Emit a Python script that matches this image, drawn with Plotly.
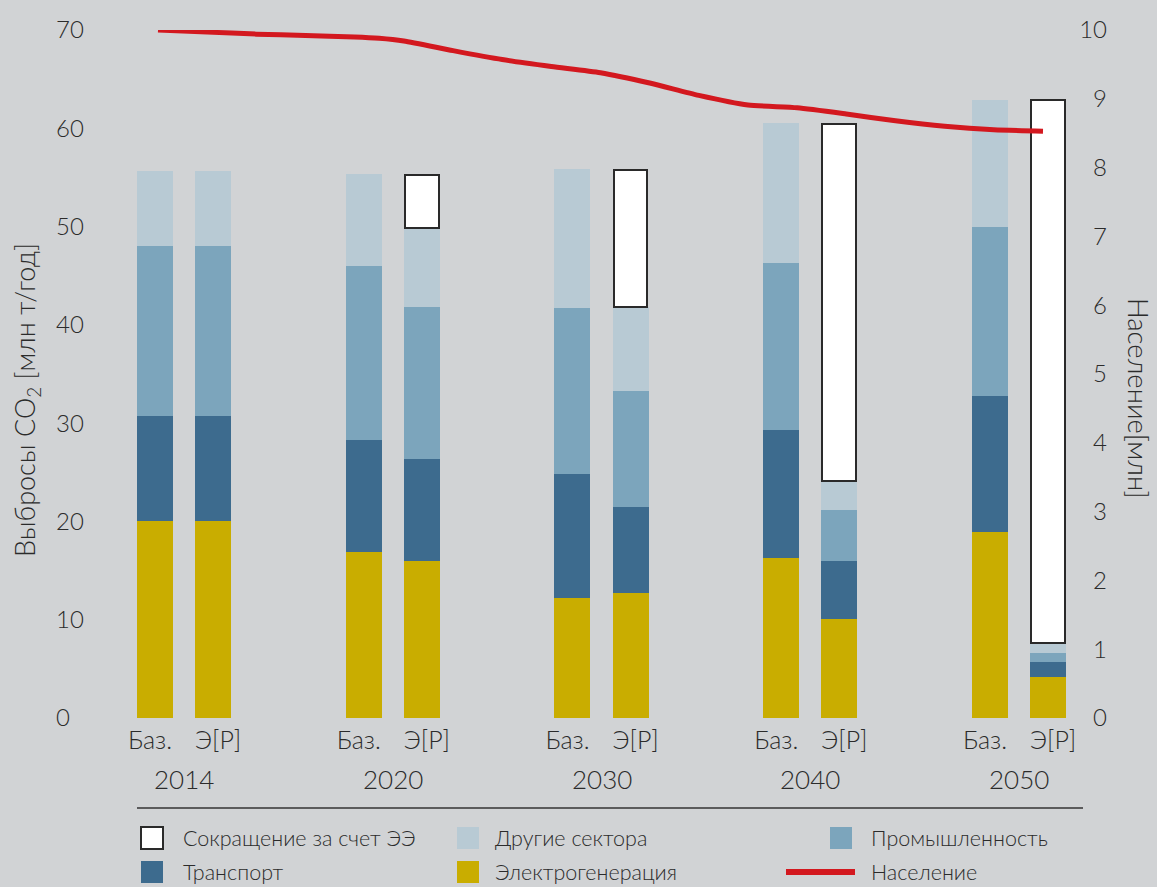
import plotly.graph_objects as go

# ---------------- data ----------------
years = [2014, 2020, 2030, 2040, 2050]
scenario_labels = ["Баз.", "Э[Р]"]

# Baseline scenario ("Баз.") segments, Mt CO2 / year
power_base = [20.0, 16.9, 12.2, 16.3, 18.9]
transport_base = [10.7, 11.4, 12.6, 13.0, 13.9]
industry_base = [17.3, 17.7, 16.9, 17.0, 17.2]
other_base = [7.7, 9.3, 14.2, 14.2, 12.9]

# Energy [R]evolution scenario ("Э[Р]") segments
power_er = [20.0, 16.0, 12.7, 10.1, 4.2]
transport_er = [10.7, 10.4, 8.8, 5.9, 1.5]
industry_er = [17.3, 15.4, 11.8, 5.2, 0.9]
other_er = [7.7, 8.1, 8.5, 2.9, 1.0]
reduction_er = [None, 5.3, 14.0, 36.3, 55.3]

# Population, million
pop_years = [2014, 2016, 2018, 2020, 2022, 2023, 2024, 2026, 2028, 2030, 2032,
             2034, 2036, 2038, 2040, 2042, 2044, 2046, 2048, 2050]
pop_values = [10.0, 9.97, 9.94, 9.92, 9.90, 9.88, 9.84, 9.70, 9.57, 9.47, 9.38,
              9.23, 9.05, 8.91, 8.87, 8.78, 8.68, 8.60, 8.55, 8.53]

left_ticks = [0, 10, 20, 30, 40, 50, 60, 70]
right_ticks = [0, 1, 2, 3, 4, 5, 6, 7, 8, 9, 10]

# ---------------- style ----------------
W, H = 1157, 887
L, R, T, B = 53, 1110, 30, 718   # plot area in pixels
BG = "#d1d3d5"
TXT = "#2b2b2b"
FONT = "Lato"
C_POWER = "#c9ad00"
C_TRANSPORT = "#3d6b8e"
C_INDUSTRY = "#7ca5bc"
C_OTHER = "#b8cad4"
C_RED = "#d3181f"
C_EDGE = "#2a2a2a"


def px_x(X):
    return (X - L) / (R - L)


def px_y(Y):
    return (B - Y) / (B - T)


groups = list(range(len(years)))
bar_off = 0.139
lab_off = 0.163
x_bars = [g - bar_off for g in groups] + [g + bar_off for g in groups]
bar_w = 0.1725

fig = go.Figure()

series = [
    ("Электрогенерация", power_base, power_er, C_POWER),
    ("Транспорт", transport_base, transport_er, C_TRANSPORT),
    ("Промышленность", industry_base, industry_er, C_INDUSTRY),
    ("Другие сектора", other_base, other_er, C_OTHER),
]
for name, vb, ve, col in series:
    fig.add_trace(go.Bar(
        x=x_bars, y=vb + ve, name=name, width=bar_w,
        marker=dict(color=col, line=dict(width=0)),
        showlegend=False, xaxis="x", yaxis="y",
    ))

fig.add_trace(go.Bar(
    x=x_bars, y=[None] * len(years) + reduction_er, name="Сокращение за счет ЭЭ",
    width=bar_w - 0.01,
    marker=dict(color="white", line=dict(color=C_EDGE, width=2.2)),
    showlegend=False, xaxis="x", yaxis="y",
))

fig.add_trace(go.Scatter(
    x=pop_years, y=pop_values, name="Население", mode="lines",
    line=dict(color=C_RED, width=5, shape="spline", smoothing=0.6),
    showlegend=False, xaxis="x2", yaxis="y2",
))

# x range in group units
x_lo = -(184 - L) / 208.75
x_hi = 4 + (R - 1019) / 208.75
# population x axis (years) so that 2014 -> 158 px, 2050 -> 1043 px
ppy = (1043 - 158) / 36.0
yr_lo = 2014 - (158 - L) / ppy
yr_hi = 2050 + (R - 1043) / ppy

tickvals, ticktext = [], []
for g in groups:
    tickvals += [g - lab_off, g + lab_off]
    ticktext += scenario_labels

tick_font = dict(size=24, family=FONT, color=TXT, weight=300)

fig.update_layout(
    width=W, height=H,
    margin=dict(l=L, r=W - R, t=T, b=H - B, pad=0),
    paper_bgcolor=BG, plot_bgcolor=BG,
    barmode="stack", bargap=0,
    font=dict(family=FONT, color=TXT, size=20, weight=300),
    showlegend=False,
    xaxis=dict(range=[x_lo, x_hi], tickvals=tickvals, ticktext=ticktext,
               showgrid=False, zeroline=False, showline=False, ticks="",
               ticklabelstandoff=5,
               tickfont=dict(size=25, family=FONT, color=TXT, weight=300)),
    xaxis2=dict(range=[yr_lo, yr_hi], overlaying="x", visible=False),
    yaxis=dict(range=[0, 70], tickvals=left_ticks, showgrid=False, zeroline=False,
               showline=False, ticks="", ticklabelposition="inside",
               ticklabeloverflow="allow", tickfont=tick_font),
    yaxis2=dict(range=[0, 10], tickvals=right_ticks, overlaying="y", side="right",
                showgrid=False, zeroline=False, showline=False, ticks="",
                ticklabelposition="inside", ticklabeloverflow="allow",
                tickfont=tick_font),
)

ann = []
for g, yr in zip(groups, years):
    ann.append(dict(x=g, xref="x", y=px_y(779), yref="paper", text=str(yr),
                    showarrow=False, xanchor="center", yanchor="middle",
                    font=dict(size=26, family=FONT, color=TXT, weight=300)))

ann.append(dict(x=px_x(26), y=px_y(400), xref="paper", yref="paper",
                text="Выбросы CO<sub>2</sub> [млн т/год]", textangle=-90,
                showarrow=False, xanchor="center", yanchor="middle",
                font=dict(size=27, family=FONT, color=TXT, weight=300)))
ann.append(dict(x=px_x(1139), y=px_y(398), xref="paper", yref="paper",
                text="Население[млн]", textangle=90, borderpad=0,
                showarrow=False, xanchor="center", yanchor="middle",
                font=dict(size=27.5, family=FONT, color=TXT, weight=300)))

shapes = [dict(type="line", xref="paper", yref="paper",
               x0=px_x(137), x1=px_x(1083), y0=px_y(808), y1=px_y(808),
               line=dict(color="#333333", width=1.5))]

# manual legend
legend_items = [
    ("Сокращение за счет ЭЭ", "white", "box", 141, 181, 838),
    ("Другие сектора", C_OTHER, "box", 457, 493, 838),
    ("Промышленность", C_INDUSTRY, "box", 830, 869, 838),
    ("Транспорт", C_TRANSPORT, "box", 141, 181, 872),
    ("Электрогенерация", C_POWER, "box", 457, 493, 872),
    ("Население", C_RED, "line", 786, 869, 872),
]
for label, col, kind, sx, tx, cy in legend_items:
    if kind == "box":
        shapes.append(dict(type="rect", xref="paper", yref="paper",
                           x0=px_x(sx), x1=px_x(sx + 22),
                           y0=px_y(cy - 11), y1=px_y(cy + 11),
                           fillcolor=col,
                           line=dict(color=C_EDGE if col == "white" else col,
                                     width=2 if col == "white" else 0)))
    else:
        shapes.append(dict(type="line", xref="paper", yref="paper",
                           x0=px_x(sx), x1=px_x(sx + 69), y0=px_y(cy), y1=px_y(cy),
                           line=dict(color=col, width=6)))
    ann.append(dict(x=px_x(tx), y=px_y(cy), xref="paper", yref="paper",
                    text=label, showarrow=False, xanchor="left", yanchor="middle",
                    font=dict(size=21.5, family=FONT, color=TXT, weight=300)))

fig.update_layout(annotations=ann, shapes=shapes)

fig.write_html("out.html")
